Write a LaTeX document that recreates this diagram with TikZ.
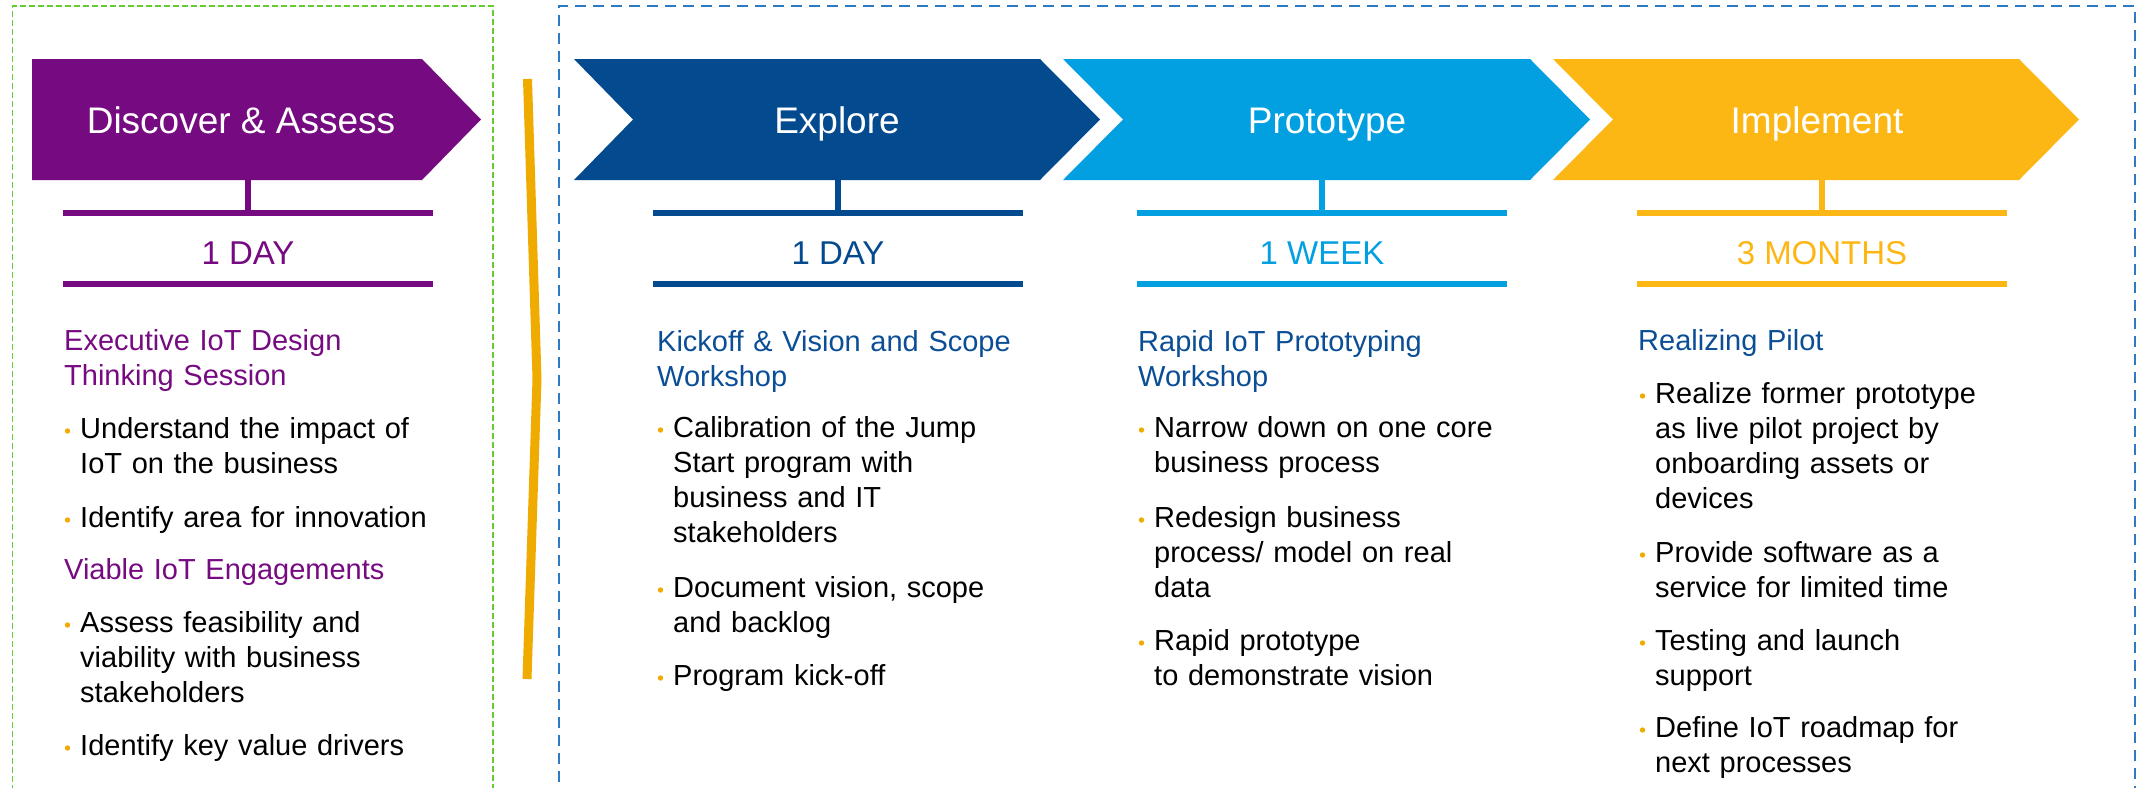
\documentclass[tikz,border=0pt]{standalone}
\usepackage{fontspec}
\setmainfont{Liberation Sans}
\definecolor{cpurple}{HTML}{760A80}
\definecolor{cdark}{HTML}{034A8F}
\definecolor{clight}{HTML}{03A0E1}
\definecolor{cyellow}{HTML}{FDB715}
\definecolor{corange}{HTML}{F0AB00}
\definecolor{cgreen}{HTML}{66CC33}
\definecolor{cbluedash}{HTML}{2F7AC4}
\definecolor{chead}{HTML}{0B4E96}
\newcommand\colitem[4]{%
  \node[txt] (#1) at (#2,#3) {#4};
  \fill[corange] ({#2-12.5},{#3-7}) circle (2.7pt);
}
\begin{document}
\begin{tikzpicture}[x=1pt,y=-1pt,
  lbl/.style={anchor=base, inner sep=0pt, text=white, font=\fontsize{37}{44}\selectfont},
  dur/.style={anchor=base, inner sep=0pt, font=\fontsize{33}{40}\selectfont},
  txt/.style={anchor=base west, inner sep=0pt, text width=420pt, align=left, font=\fontsize{29}{35.3}\selectfont},
  bar/.style={line width=6pt},
  stem/.style={line width=5.5pt},
  gbox/.style={draw=cgreen, line width=1.5pt, dash pattern=on 6pt off 3pt},
  bbox/.style={draw=cbluedash, line width=2.5pt, dash pattern=on 11pt off 7pt},
]
\useasboundingbox (0,0) rectangle (2144,787);
\clip (0,0) rectangle (2144,787);

% frames
\draw[gbox] (12.7,800) -- (12.7,6) -- (493,6) -- (493,800);
\draw[bbox] (559,800) -- (559,6) -- (2135,6) -- (2135,800);

% separator bracket
\draw[corange, line width=9pt, line join=miter] (527.5,79) -- (537,379) -- (527,679);

% chevrons
\fill[cpurple] (32,59) -- (422,59) -- (481,119.5) -- (422,180) -- (32,180) -- cycle;
\fill[cdark] (574,59) -- (1040,59) -- (1100,119.5) -- (1040,180) -- (574,180) -- (633,119.5) -- cycle;
\fill[clight] (1063,59) -- (1530,59) -- (1590,119.5) -- (1530,180) -- (1063,180) -- (1123,119.5) -- cycle;
\fill[cyellow] (1553,59) -- (2019,59) -- (2079,119.5) -- (2019,180) -- (1553,180) -- (1613,119.5) -- cycle;

\node[lbl] (l1) at (241,133) {Discover \& Assess};
\node[lbl] (l2) at (837,133) {Explore};
\node[lbl] (l3) at (1327,133) {Prototype};
\node[lbl] (l4) at (1817,133) {Implement};

% stems, bars, durations
\foreach \cx/\cc/\nm/\tx in {248/cpurple/d1/1 DAY, 838/cdark/d2/1 DAY, 1322/clight/d3/1 WEEK, 1822/cyellow/d4/3 MONTHS}{
  \draw[stem, \cc] (\cx,180) -- (\cx,213);
  \draw[bar, \cc] (\cx-185,213) -- (\cx+185,213);
  \draw[bar, \cc] (\cx-185,284) -- (\cx+185,284);
  \node[dur, text=\cc] (\nm) at (\cx,264) {\tx};
}

% column 1
\node[txt, text=cpurple] (h1a) at (64,350) {Executive IoT Design\\Thinking Session};
\colitem{b1a}{80}{438}{Understand the impact of\\IoT on the business}
\colitem{b1b}{80}{527}{Identify area for innovation}
\node[txt, text=cpurple] (h1b) at (64,579) {Viable IoT Engagements};
\colitem{b1c}{80}{632}{Assess feasibility and\\viability with business\\stakeholders}
\colitem{b1d}{80}{755}{Identify key value drivers}

% column 2
\node[txt, text=chead] (h2) at (657,351) {Kickoff \& Vision and Scope\\Workshop};
\colitem{b2a}{673}{437}{Calibration of the Jump\\Start program with\\business and IT\\stakeholders}
\colitem{b2b}{673}{597}{Document vision, scope\\and backlog}
\colitem{b2c}{673}{685}{Program kick-off}

% column 3
\node[txt, text=chead] (h3) at (1138,351) {Rapid IoT Prototyping\\Workshop};
\colitem{b3a}{1154}{437}{Narrow down on one core\\business process}
\colitem{b3b}{1154}{527}{Redesign business\\process/ model on real\\data}
\colitem{b3c}{1154}{650}{Rapid prototype\\to demonstrate vision}

% column 4
\node[txt, text=chead] (h4) at (1638,350) {Realizing Pilot};
\colitem{b4a}{1655}{403}{Realize former prototype\\as live pilot project by\\onboarding assets or\\devices}
\colitem{b4b}{1655}{562}{Provide software as a\\service for limited time}
\colitem{b4c}{1655}{650}{Testing and launch\\support}
\colitem{b4d}{1655}{737}{Define IoT roadmap for\\next processes}
\end{tikzpicture}
\end{document}
